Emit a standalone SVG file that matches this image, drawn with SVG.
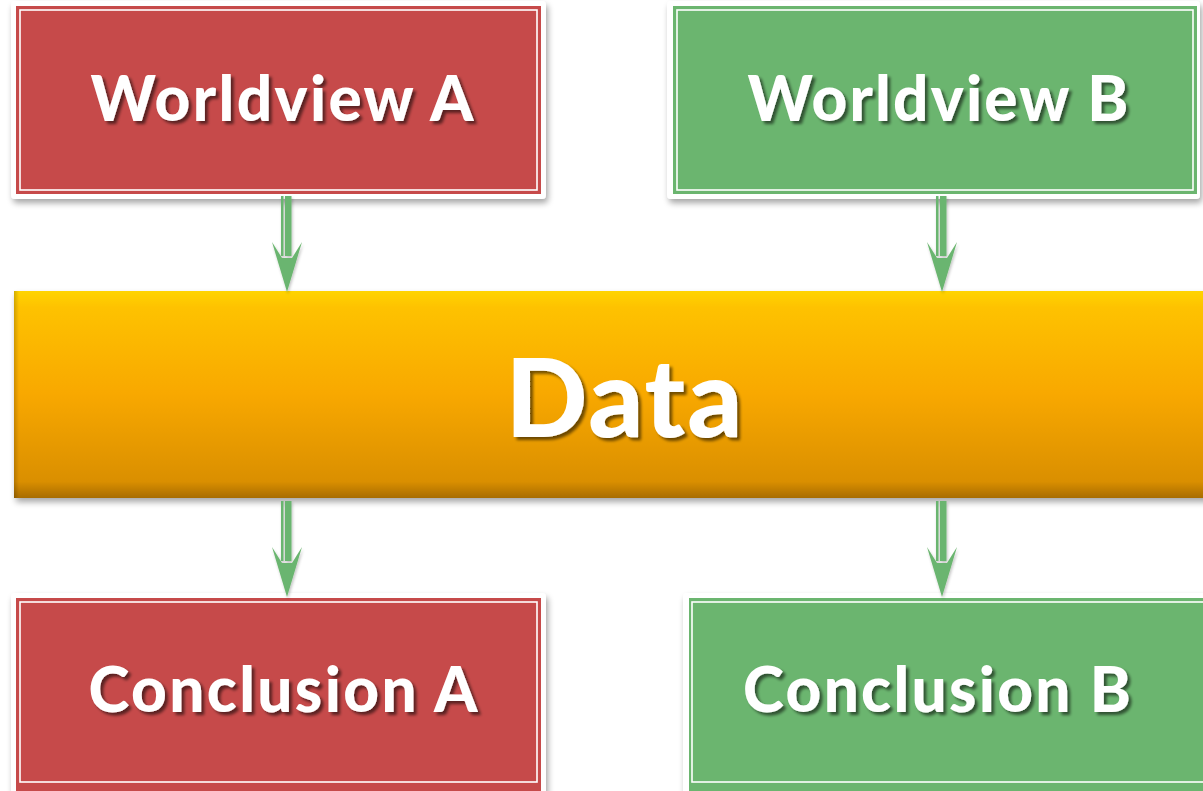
<svg xmlns="http://www.w3.org/2000/svg" width="1203" height="791" viewBox="0 0 1203 791">
<defs>
<linearGradient id="gold" x1="0" y1="0" x2="0" y2="1">
<stop offset="0" stop-color="#FFD400"/>
<stop offset="0.08" stop-color="#FEC200"/>
<stop offset="0.5" stop-color="#F8A800"/>
<stop offset="0.92" stop-color="#DA8F00"/>
<stop offset="1" stop-color="#A86C00"/>
</linearGradient>
<linearGradient id="edgeL" x1="0" y1="0" x2="1" y2="0">
<stop offset="0" stop-color="#000" stop-opacity="0.18"/>
<stop offset="1" stop-color="#000" stop-opacity="0"/>
</linearGradient>
<filter id="boxShadow" x="-5%" y="-5%" width="112%" height="115%">
<feGaussianBlur in="SourceAlpha" stdDeviation="3"/>
<feOffset dx="2" dy="4" result="b"/>
<feComponentTransfer><feFuncA type="linear" slope="0.35"/></feComponentTransfer>
<feMerge><feMergeNode/><feMergeNode in="SourceGraphic"/></feMerge>
</filter>
<filter id="textShadow" x="-5%" y="-10%" width="115%" height="130%">
<feGaussianBlur in="SourceAlpha" stdDeviation="1.5"/>
<feOffset dx="3" dy="3" result="b"/>
<feComponentTransfer><feFuncA type="linear" slope="0.55"/></feComponentTransfer>
<feMerge><feMergeNode/><feMergeNode in="SourceGraphic"/></feMerge>
</filter>
<filter id="arrowShadow" x="-30%" y="-10%" width="160%" height="130%">
<feGaussianBlur in="SourceAlpha" stdDeviation="1.5"/>
<feOffset dx="1" dy="2" result="b"/>
<feComponentTransfer><feFuncA type="linear" slope="0.25"/></feComponentTransfer>
<feMerge><feMergeNode/><feMergeNode in="SourceGraphic"/></feMerge>
</filter>
<g id="arrow">
<rect x="-6" y="0" width="2.5" height="60" fill="#6BB56F"/>
<rect x="-2" y="0" width="6.5" height="60" fill="#6BB56F"/>
<path d="M-15,46 L-5,62 L5,62 L15,46 L0,96 Z" fill="#6BB56F"/>
</g>
</defs>
<style>
.frame{fill:#FFFFFF}
.red{fill:#C64A4A}
.green{fill:#6BB56F}
.inner{fill:none;stroke:#FFFFFF;stroke-width:1.6}
.lbl{font-family:Lato,"Open Sans","Liberation Sans",sans-serif;font-weight:900;fill:#FFFFFF;text-anchor:middle}
</style>
<rect width="1203" height="791" fill="#FFFFFF"/>

<g id="worldview-a">
<rect class="frame" x="11" y="1" width="535" height="198" rx="4" filter="url(#boxShadow)"/>
<rect class="red" x="16" y="6" width="525" height="188"/>
<rect class="inner" x="20" y="10" width="517" height="180"/>
<text class="lbl" x="282" y="121" font-size="62" textLength="383" filter="url(#textShadow)">Worldview A</text>
</g>

<g id="worldview-b">
<rect class="frame" x="667" y="1" width="533" height="198" rx="4" filter="url(#boxShadow)"/>
<rect class="green" x="673" y="6" width="524" height="188"/>
<rect class="inner" x="677" y="10" width="516" height="180"/>
<text class="lbl" x="938" y="121" font-size="62" textLength="381" filter="url(#textShadow)">Worldview B</text>
</g>

<g id="data">
<rect x="14" y="291" width="1200" height="207" fill="url(#gold)" filter="url(#boxShadow)"/>
<rect x="14" y="291" width="5" height="207" fill="url(#edgeL)"/>
<text class="lbl" x="624" y="437" font-size="108" textLength="237" filter="url(#textShadow)">Data</text>
</g>

<g id="conclusion-a">
<rect class="frame" x="11" y="593" width="535" height="210" rx="4" filter="url(#boxShadow)"/>
<rect class="red" x="16" y="598" width="525" height="200"/>
<rect class="inner" x="20" y="602" width="517" height="180"/>
<text class="lbl" x="283" y="712" font-size="62" textLength="389" filter="url(#textShadow)">Conclusion A</text>
</g>

<g id="conclusion-b">
<rect class="frame" x="683" y="593" width="540" height="210" rx="4" filter="url(#boxShadow)"/>
<rect class="green" x="689" y="598" width="530" height="200"/>
<rect class="inner" x="692" y="602" width="530" height="180"/>
<text class="lbl" x="937" y="712" font-size="62" textLength="388" filter="url(#textShadow)">Conclusion B</text>
</g>

<g id="connectors" filter="url(#arrowShadow)">
<use href="#arrow" transform="translate(287,196)"/>
<use href="#arrow" transform="translate(942,196)"/>
<use href="#arrow" transform="translate(287,501)"/>
<use href="#arrow" transform="translate(942,501)"/>
</g>
</svg>
